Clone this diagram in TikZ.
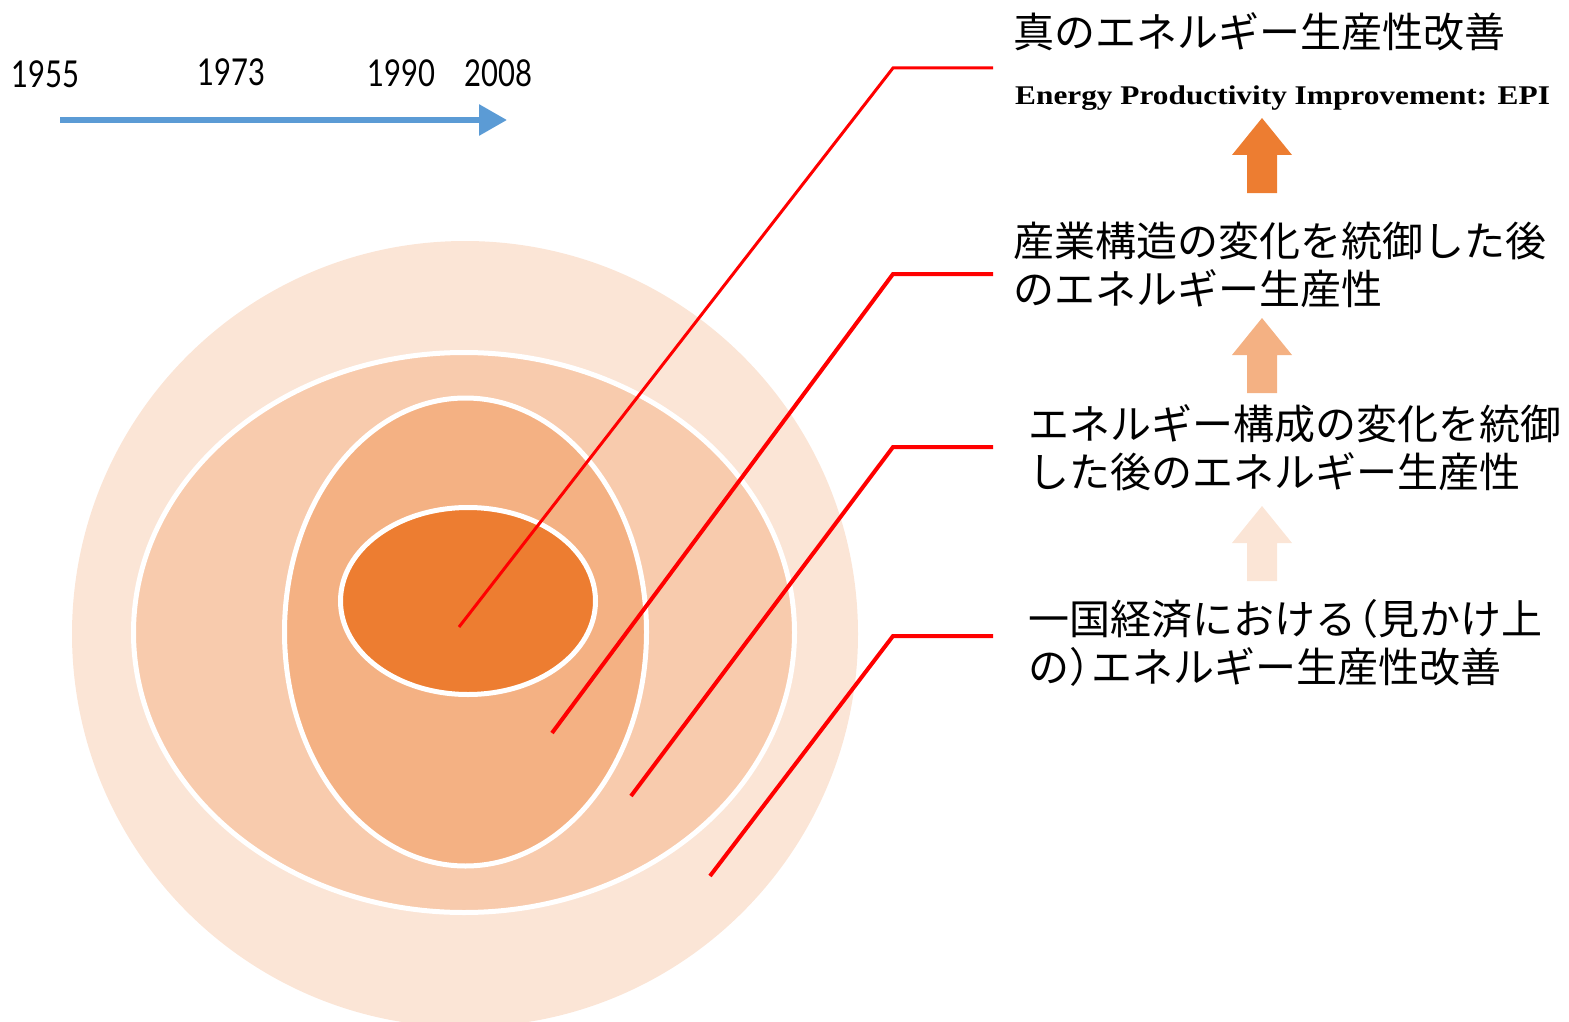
\documentclass[tikz,border=0pt]{standalone}
\usepackage{fontspec}
\setmainfont{Liberation Serif}
\newfontfamily\jp{Noto Sans CJK JP}
\newfontfamily\yr{Lato}
\usetikzlibrary{arrows.meta}
\definecolor{ringA}{HTML}{FBE5D6}
\definecolor{ringB}{HTML}{F8CBAD}
\definecolor{ringC}{HTML}{F4B183}
\definecolor{ringD}{HTML}{ED7D31}
\definecolor{timeblue}{HTML}{5B9BD5}
\definecolor{leader}{HTML}{FF0000}
\tikzset{
  ring/.style={draw=white, line width=5},
  jpt/.style={font=\jp\fontsize{41}{49}\selectfont, inner sep=0, anchor=base west},
  yeart/.style={font=\yr\fontsize{37}{42}\selectfont, inner sep=0, anchor=base west},
  leadline/.style={draw=leader, line width=4, line join=miter},
  uparr/.pic={\fill[#1] (-15,75) -- (-15,37) -- (-30,37) -- (0,0) -- (30,37) -- (15,37) -- (15,75) -- cycle;}
}
\begin{document}
\begin{tikzpicture}[x=1pt,y=-1pt]
\useasboundingbox (0,0) rectangle (1569,1022);
\clip (0,0) rectangle (1569,1022);
% rings
\fill[ringA] (465,634) ellipse [x radius=393, y radius=393];
\filldraw[fill=ringB, ring] (464,632.5) ellipse [x radius=330.5, y radius=280];
\filldraw[fill=ringC, ring] (465.5,632) ellipse [x radius=181, y radius=234];
\filldraw[fill=ringD, ring] (468,601) ellipse [x radius=127.5, y radius=93.5];
% timeline
\coordinate (ts) at (60,120);
\coordinate (te) at (507,120);
\draw[timeblue, line width=6, -{Triangle[length=28,width=30]}] (ts) -- (te);
\node[yeart] (y1) at (11,88) {\scalebox{0.79}[1]{1955}};
\node[yeart] (y2) at (197,86) {\scalebox{0.79}[1]{1973}};
\node[yeart] (y3) at (367,87) {\scalebox{0.79}[1]{1990}};
\node[yeart] (y4) at (464,87) {\scalebox{0.79}[1]{2008}};
% texts
\node[jpt] (t1) at (1013,48) {真のエネルギー生産性改善};
\node[font=\bfseries\fontsize{27}{32}\selectfont, inner sep=0, anchor=base west] (t1e) at (1015,105) {\scalebox{1.16}[1]{Energy Productivity Improvement: EPI}};
\node[jpt] (t2a) at (1013,256) {産業構造の変化を統御した後};
\node[jpt] (t2b) at (1013,304) {のエネルギー生産性};
\node[jpt] (t3a) at (1028,439) {エネルギー構成の変化を統御};
\node[jpt] (t3b) at (1028,487) {した後のエネルギー生産性};
\node[jpt] (t4a) at (1028,634) {一国経済における\hspace{-19pt}（見かけ上};
\node[jpt] (t4b) at (1028,682) {の）\hspace{-19pt}エネルギー生産性改善};
% block arrows
\pic at (1262,118) {uparr=ringD};
\pic at (1262,318) {uparr=ringC};
\pic at (1262,506) {uparr=ringA};
% leader lines
\coordinate (a1) at (459,627); \coordinate (b1) at (893,68); \coordinate (c1) at (993,68);
\coordinate (a2) at (552,733); \coordinate (b2) at (893,274); \coordinate (c2) at (993,274);
\coordinate (a3) at (631,796); \coordinate (b3) at (893,447); \coordinate (c3) at (993,447);
\coordinate (a4) at (710,876); \coordinate (b4) at (893,636); \coordinate (c4) at (993,636);
\draw[leadline, line width=3] (a1) -- (b1) -- (c1);
\draw[leadline] (a2) -- (b2) -- (c2);
\draw[leadline] (a3) -- (b3) -- (c3);
\draw[leadline] (a4) -- (b4) -- (c4);
\end{tikzpicture}
\end{document}
